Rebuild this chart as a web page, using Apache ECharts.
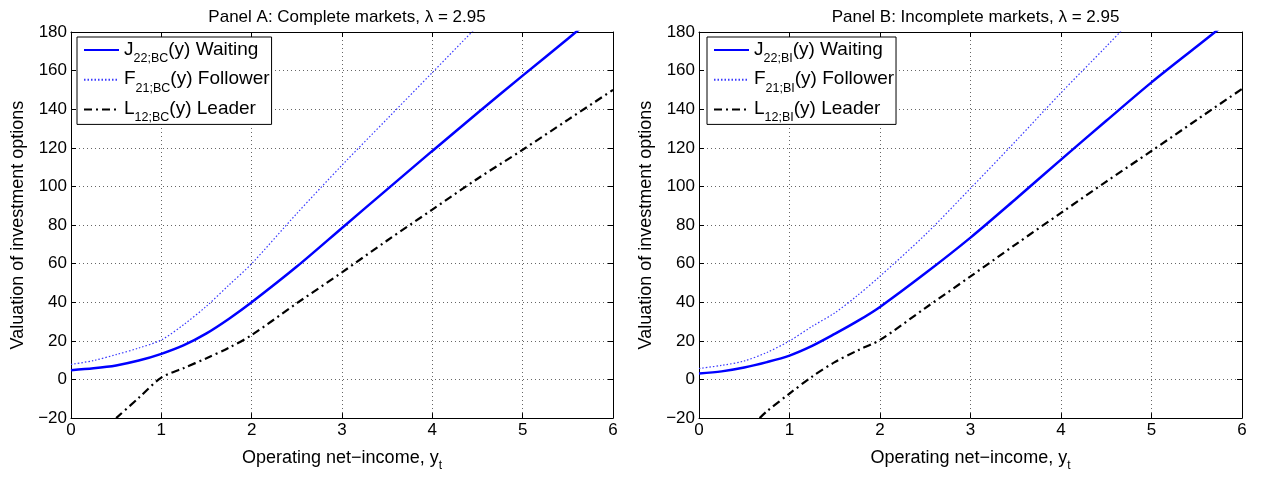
<!DOCTYPE html>
<html><head><meta charset="utf-8">
<script src="https://cdn.jsdelivr.net/npm/echarts@6/dist/echarts.min.js"></script>
<style>html,body{margin:0;padding:0;background:#fff}#c{width:1263px;height:477px}</style>
</head><body><div id="c"></div>
<script>
// ---------- data ----------
const X_TICKS = [0, 1, 2, 3, 4, 5, 6];
const Y_TICKS = [-20, 0, 20, 40, 60, 80, 100, 120, 140, 160, 180];
const PANEL_TITLES = ['Panel A: Complete markets, λ = 2.95', 'Panel B: Incomplete markets, λ = 2.95'];

const X_CURVE = [0, 0.25, 0.5, 0.75, 1, 1.25, 1.5, 1.75, 2, 2.5, 3, 3.5, 4, 4.5, 5, 5.5, 6];
// Panel A (complete markets, BC)
const J_BC = [4.8, 5.8, 7.3, 9.8, 13.3, 17.8, 23.9, 31.5, 40, 58.5, 78.5, 98.5, 118.4, 138, 157.4, 176.5, 196];
const F_BC = [7.8, 9.8, 12.9, 16.3, 20.5, 28.5, 38, 49, 60, 86, 111, 135, 159, 183, 207, 231, 255];
const X_LEADER_BC = [0.5, 0.75, 1, 1.25, 1.5, 1.75, 2, 2.5, 3, 3.5, 4, 4.5, 5, 5.5, 6];
const L_BC = [-20, -9.5, 1, 6, 11, 16.5, 23, 39.5, 55.5, 72, 88, 104, 119, 134.5, 150];
// Panel B (incomplete markets, BI)
const J_BI = [3.1, 4.2, 6.2, 9, 12.4, 17.4, 23.6, 30.2, 37.6, 55, 73.5, 93.5, 113.9, 134, 153.9, 172.5, 191];
const F_BI = [5.7, 7.3, 9.6, 14, 20, 27.5, 34.5, 43.5, 53.5, 75, 99, 123.5, 148.5, 172.5, 197, 221, 245];
const X_LEADER_BI = [0.67, 0.75, 1, 1.25, 1.5, 1.75, 2, 2.5, 3, 3.5, 4, 4.5, 5, 5.5, 6];
const L_BI = [-20, -16.5, -7.3, 1.5, 9, 15, 20.5, 37, 53.4, 70, 86.3, 102.5, 118.4, 134.5, 150.5];

const LEGEND_LABELS = {
  J_BC: '{m|J}{s|22;BC}{m|(y) Waiting}',
  F_BC: '{m|F}{s|21;BC}{m|(y) Follower}',
  L_BC: '{m|L}{s|12;BC}{m|(y) Leader}',
  J_BI: '{m|J}{s|22;BI}{m|(y) Waiting}',
  F_BI: '{m|F}{s|21;BI}{m|(y) Follower}',
  L_BI: '{m|L}{s|12;BI}{m|(y) Leader}'
};

// ---------- chart ----------
const FONT = '"Liberation Sans", Arial, Helvetica, sans-serif';
const zip = (xs, ys) => xs.map((x, i) => [x, ys[i]]);
const minus = v => (v < 0 ? '\u2212' + Math.abs(v) : String(v));

const grids = [
  { left: 71, top: 32, width: 542, height: 395 },
  { left: 699, top: 32, width: 543, height: 395 }
];

const richSub = {
  m: { fontFamily: FONT, fontSize: 19, color: '#000', lineHeight: 20, verticalAlign: 'top' },
  s: { fontFamily: FONT, fontSize: 12.5, color: '#000', lineHeight: 13, padding: [12, 0, 0, 0], verticalAlign: 'top' }
};

function xAxes(gi) {
  const common = {
    gridIndex: gi, type: 'value', min: X_TICKS[0], max: X_TICKS[X_TICKS.length - 1],
    interval: X_TICKS[1] - X_TICKS[0],
    axisLine: { onZero: false, lineStyle: { color: '#000', width: 1 } },
    axisTick: { inside: true, length: 5, lineStyle: { color: '#000', width: 1 } }
  };
  return [
    Object.assign({}, common, {
      position: 'bottom',
      axisLabel: { color: '#000', fontSize: 17, fontFamily: FONT, margin: 4, formatter: minus },
      splitLine: { show: true, lineStyle: { color: '#666', type: [1, 3], width: 1 } },
      name: '{m|Operating net\u2212income, y}{s|t}',
      nameLocation: 'middle', nameGap: 16,
      nameTextStyle: { rich: { m: { fontFamily: FONT, fontSize: 18, color: '#000', lineHeight: 20 },
                               s: { fontFamily: FONT, fontSize: 12, color: '#000', lineHeight: 12, padding: [16, 0, 0, 0] } } }
    }),
    Object.assign({}, common, {
      position: 'top', axisLabel: { show: false }, splitLine: { show: false }
    })
  ];
}
function yAxes(gi) {
  const common = {
    gridIndex: gi, type: 'value', min: Y_TICKS[0], max: Y_TICKS[Y_TICKS.length - 1],
    interval: Y_TICKS[1] - Y_TICKS[0],
    axisLine: { onZero: false, lineStyle: { color: '#000', width: 1 } },
    axisTick: { inside: true, length: 5, lineStyle: { color: '#000', width: 1 } }
  };
  return [
    Object.assign({}, common, {
      position: 'left',
      axisLabel: { color: '#000', fontSize: 17, fontFamily: FONT, margin: 4, formatter: minus },
      splitLine: { show: true, lineStyle: { color: '#666', type: [1, 3], width: 1 } },
      name: 'Valuation of investment options', nameLocation: 'middle', nameGap: 44,
      nameTextStyle: { fontFamily: FONT, fontSize: 18, color: '#000' }
    }),
    Object.assign({}, common, {
      position: 'right', axisLabel: { show: false }, splitLine: { show: false }
    })
  ];
}

function seriesFor(gi, tag, J, F, XL, L) {
  const xi = gi * 2, yi = gi * 2;
  const base = { type: 'line', xAxisIndex: xi, yAxisIndex: yi, symbol: 'none', showSymbol: false,
                 smooth: 0.3, clip: true, silent: true, animation: false };
  return [
    Object.assign({}, base, { name: 'J_' + tag, data: zip(X_CURVE, J), z: 4,
      lineStyle: { color: '#0000ff', width: 2.5, type: 'solid' }, itemStyle: { color: '#0000ff' } }),
    Object.assign({}, base, { name: 'F_' + tag, data: zip(X_CURVE, F), z: 3,
      lineStyle: { color: '#3a3aff', width: 1.2, type: [1.5, 2] }, itemStyle: { color: '#3a3aff' } }),
    Object.assign({}, base, { name: 'L_' + tag, data: zip(XL, L), z: 3,
      lineStyle: { color: '#000', width: 2.2, type: [8, 4, 2, 4] }, itemStyle: { color: '#000' } })
  ];
}

function legendFor(tag, left) {
  return {
    data: ['J_' + tag, 'F_' + tag, 'L_' + tag],
    orient: 'vertical', left: left, top: 37,
    backgroundColor: '#fff', borderColor: '#000', borderWidth: 1, borderRadius: 0,
    padding: [3, 2, 0, 6], itemGap: 4.7, itemWidth: 35, itemHeight: 14,
    selectedMode: false,
    itemStyle: { opacity: 0, borderWidth: 0 },
    formatter: n => LEGEND_LABELS[n],
    textStyle: { fontFamily: FONT, fontSize: 19, color: '#000', rich: richSub }
  };
}

const chart = echarts.init(document.getElementById('c'), null, { renderer: 'canvas' });
chart.setOption({
  animation: false,
  backgroundColor: '#fff',
  title: PANEL_TITLES.map((t, i) => ({
    text: t, left: grids[i].left + grids[i].width / 2, top: 4, textAlign: 'center',
    textStyle: { fontFamily: FONT, fontSize: 17, fontWeight: 'normal', color: '#000' }
  })),
  grid: grids,
  legend: [legendFor('BC', 77), legendFor('BI', 707)],
  xAxis: xAxes(0).concat(xAxes(1)),
  yAxis: yAxes(0).concat(yAxes(1)),
  series: seriesFor(0, 'BC', J_BC, F_BC, X_LEADER_BC, L_BC)
    .concat(seriesFor(1, 'BI', J_BI, F_BI, X_LEADER_BI, L_BI))
});
</script></body></html>
